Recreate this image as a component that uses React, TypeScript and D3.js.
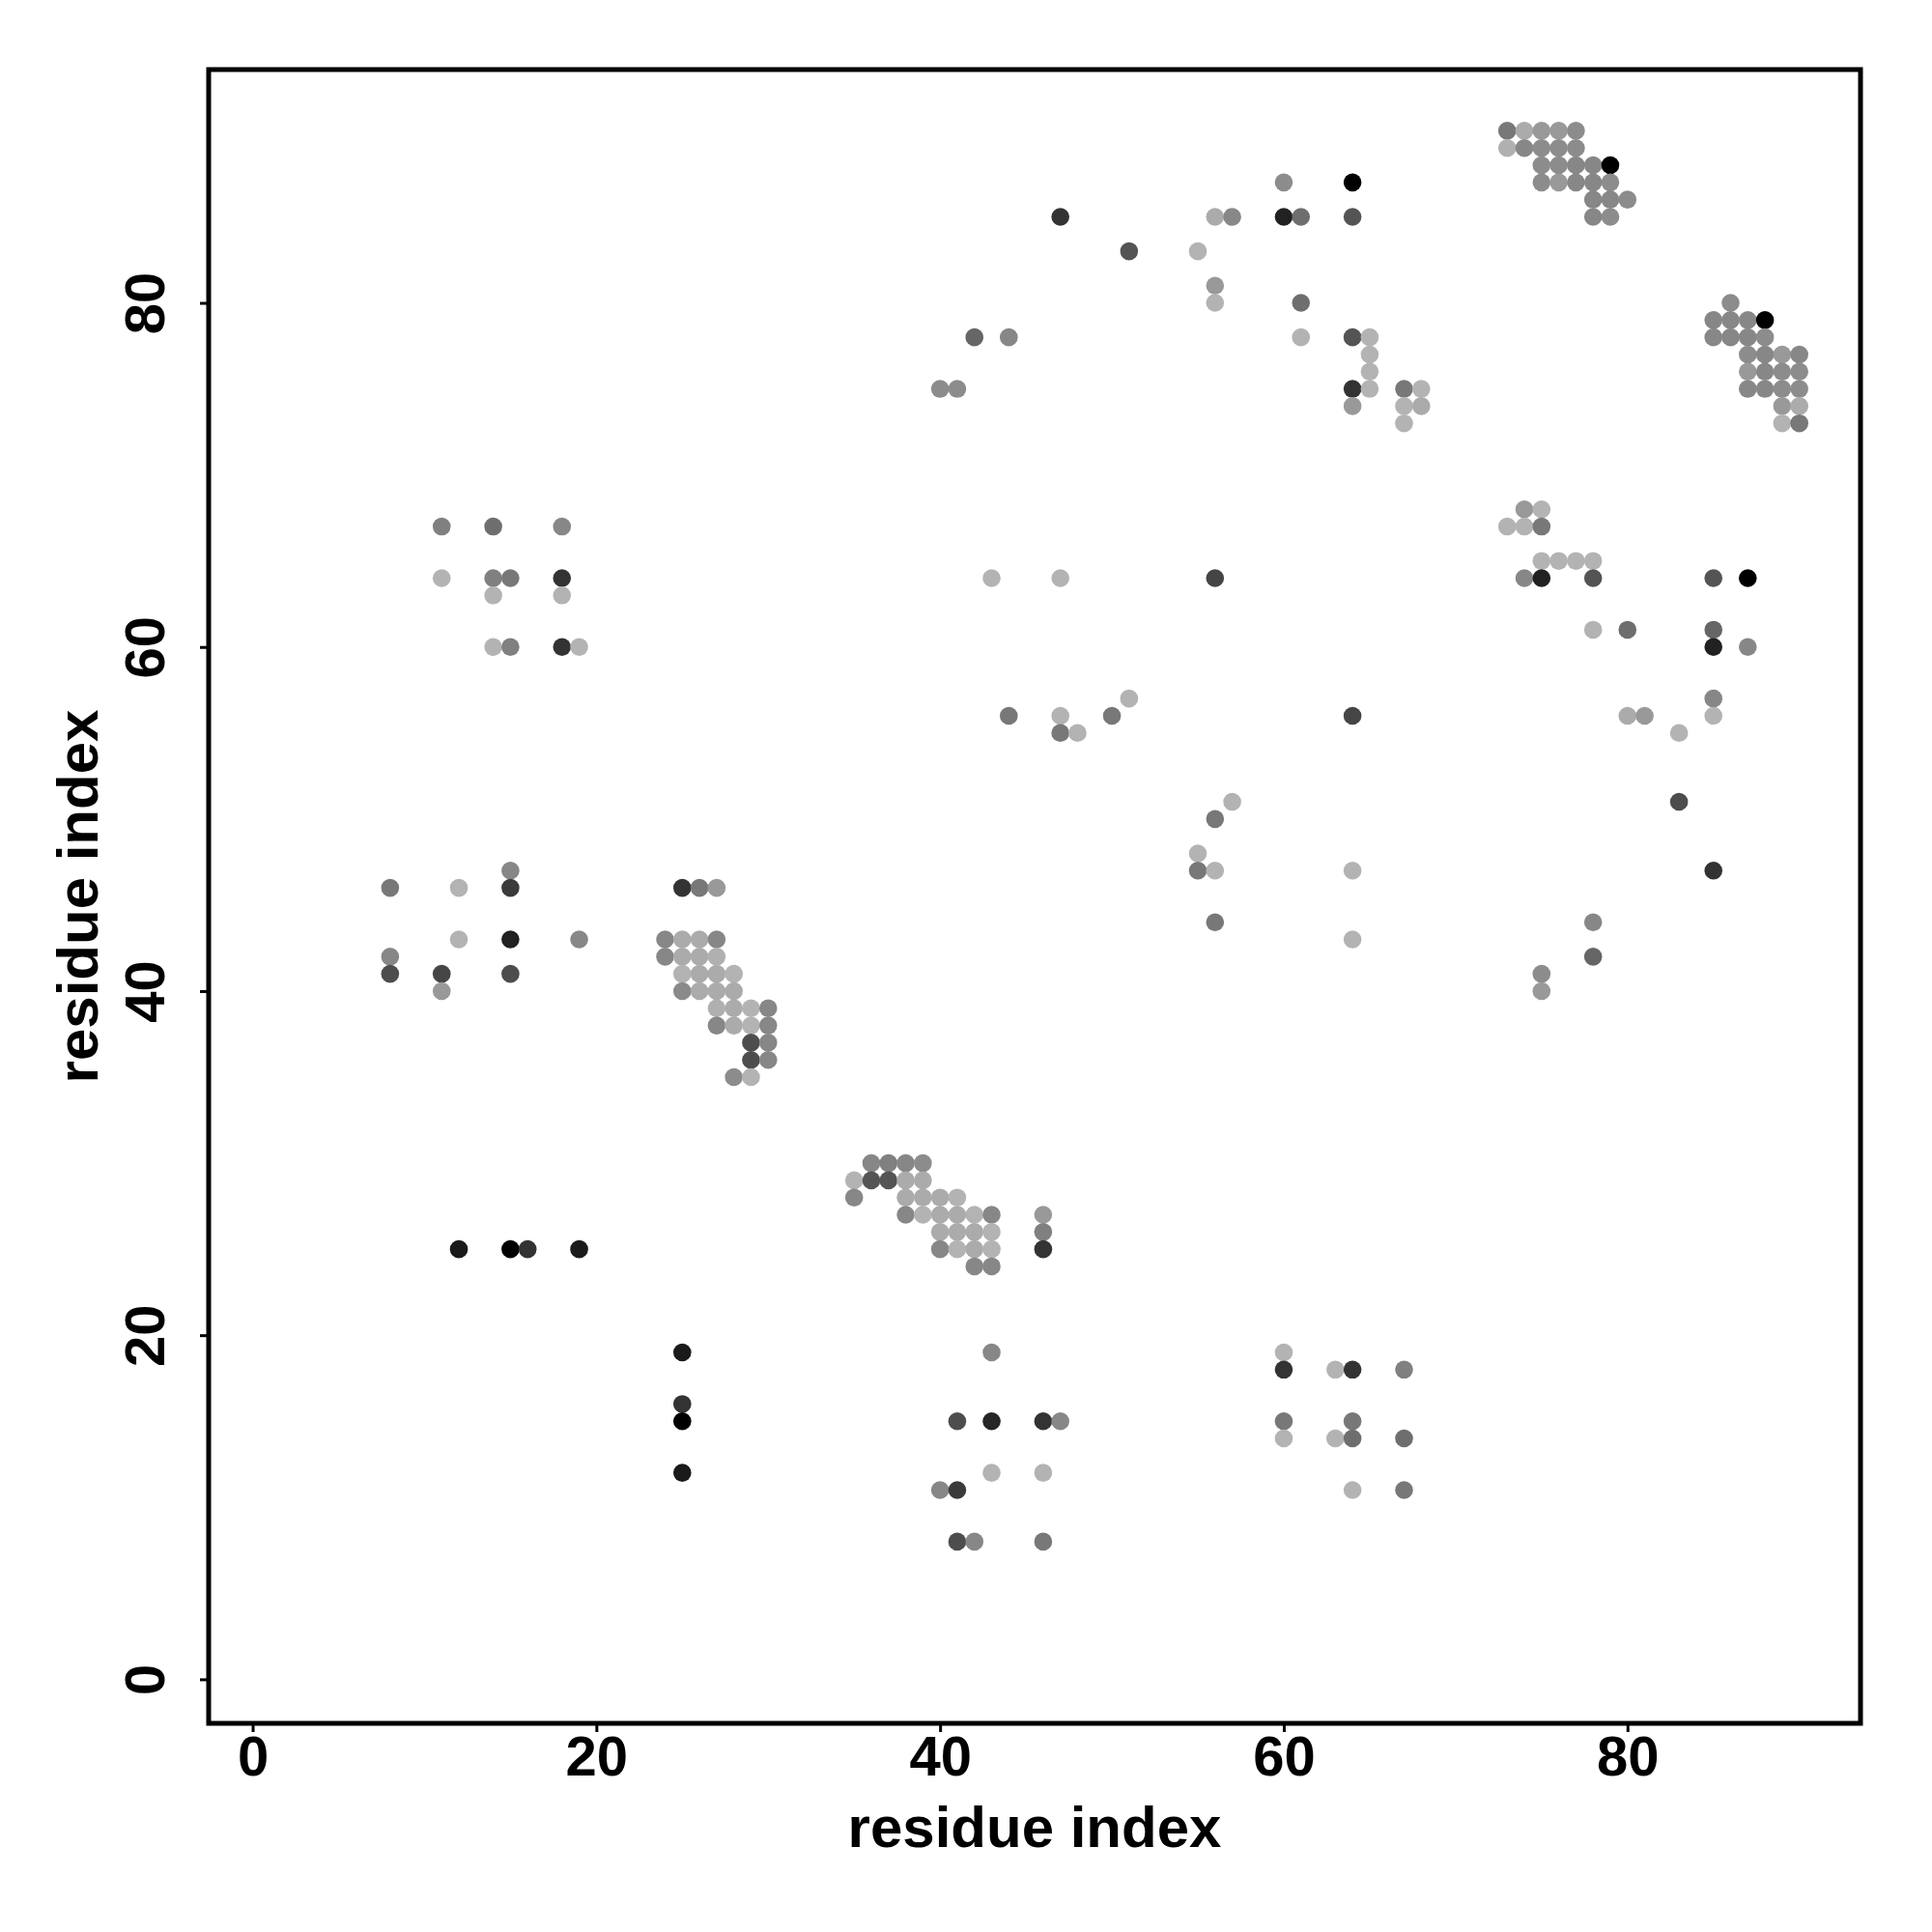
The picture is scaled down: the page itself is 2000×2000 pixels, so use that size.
import React, { useEffect, useRef } from "react";
import * as d3 from "d3";

// contacts as [i, j, grey level (0 = black, 1 = white)]
const blockUpperLeft: [number, number, number][] = [
  [11, 67, 0.5], [14, 67, 0.43], [18, 67, 0.53],
  [11, 64, 0.7], [14, 64, 0.5], [15, 64, 0.47], [18, 64, 0.2],
  [14, 63, 0.7], [18, 63, 0.7],
  [14, 60, 0.7], [15, 60, 0.5], [18, 60, 0.2], [19, 60, 0.7],
];

const blockLeft: [number, number, number][] = [
  [8, 46, 0.47], [12, 46, 0.7], [15, 47, 0.53], [15, 46, 0.23],
  [12, 43, 0.7], [15, 43, 0.13], [19, 43, 0.53],
  [8, 42, 0.53], [8, 41, 0.3], [11, 41, 0.27], [11, 40, 0.6], [15, 41, 0.3],
];

const helixA: [number, number, number][] = [
  [25, 46, 0.2], [26, 46, 0.47], [27, 46, 0.6],
  [24, 43, 0.53], [25, 43, 0.67], [26, 43, 0.67], [27, 43, 0.53],
  [24, 42, 0.53], [25, 42, 0.67], [26, 42, 0.67], [27, 42, 0.69],
  [25, 41, 0.7], [26, 41, 0.67], [27, 41, 0.67], [28, 41, 0.7],
  [25, 40, 0.54], [26, 40, 0.67], [27, 40, 0.67], [28, 40, 0.67],
  [27, 39, 0.69], [28, 39, 0.67], [29, 39, 0.7], [30, 39, 0.53],
  [27, 38, 0.53], [28, 38, 0.67], [29, 38, 0.7], [30, 38, 0.53],
  [29, 37, 0.3], [30, 37, 0.53],
  [29, 36, 0.3], [30, 36, 0.53],
  [28, 35, 0.55], [29, 35, 0.7],
];

const blockLowerLeft: [number, number, number][] = [
  [12, 25, 0.1], [15, 25, 0], [16, 25, 0.2], [19, 25, 0.1],
  [25, 19, 0.1], [25, 16, 0.2], [25, 15, 0], [25, 12, 0.1],
];

const helixB: [number, number, number][] = [
  [36, 30, 0.53], [37, 30, 0.5], [38, 30, 0.53], [39, 30, 0.55],
  [35, 29, 0.7], [36, 29, 0.33], [37, 29, 0.33], [38, 29, 0.67], [39, 29, 0.67],
  [35, 28, 0.53], [38, 28, 0.67], [39, 28, 0.67], [40, 28, 0.67], [41, 28, 0.7],
  [38, 27, 0.53], [39, 27, 0.7], [40, 27, 0.67], [41, 27, 0.67], [42, 27, 0.7], [43, 27, 0.53], [46, 27, 0.6],
  [40, 26, 0.67], [41, 26, 0.67], [42, 26, 0.67], [43, 26, 0.7], [46, 26, 0.5],
  [40, 25, 0.53], [41, 25, 0.7], [42, 25, 0.67], [43, 25, 0.7], [46, 25, 0.2],
  [42, 24, 0.53], [43, 24, 0.53],
];

const blockLowerMid: [number, number, number][] = [
  [43, 19, 0.53],
  [41, 15, 0.3], [43, 15, 0.15], [46, 15, 0.2], [47, 15, 0.53],
  [43, 12, 0.7], [46, 12, 0.7],
  [40, 11, 0.53], [41, 11, 0.23],
  [41, 8, 0.3], [42, 8, 0.53], [46, 8, 0.47],
  [60, 19, 0.7], [60, 18, 0.2], [60, 15, 0.47], [60, 14, 0.7],
  [63, 18, 0.7], [64, 18, 0.2], [67, 18, 0.5],
  [64, 15, 0.47],
  [63, 14, 0.7], [64, 14, 0.43], [67, 14, 0.43],
  [64, 11, 0.7], [67, 11, 0.47],
];

const blockMiddle: [number, number, number][] = [
  [43, 64, 0.7], [47, 64, 0.7], [56, 64, 0.27],
  [44, 56, 0.47], [47, 56, 0.7], [47, 55, 0.47], [48, 55, 0.7], [50, 56, 0.47], [51, 57, 0.7],
  [57, 51, 0.7], [56, 50, 0.47], [55, 48, 0.7], [55, 47, 0.47], [56, 47, 0.7], [56, 44, 0.47],
  [64, 56, 0.27], [64, 47, 0.7], [64, 43, 0.7],
];

const blockUpperMid: [number, number, number][] = [
  [60, 87, 0.55], [47, 85, 0.2], [56, 85, 0.67], [57, 85, 0.53], [60, 85, 0.13], [61, 85, 0.43],
  [64, 87, 0], [64, 85, 0.33],
  [51, 83, 0.33], [55, 83, 0.7], [56, 81, 0.6], [56, 80, 0.7], [61, 80, 0.43],
  [42, 78, 0.4], [44, 78, 0.53], [61, 78, 0.7],
  [40, 75, 0.55], [41, 75, 0.55],
  [64, 78, 0.33], [65, 78, 0.7], [65, 77, 0.7], [65, 76, 0.7], [64, 75, 0.2], [65, 75, 0.7], [64, 74, 0.6],
  [67, 75, 0.47], [68, 75, 0.7], [67, 74, 0.7], [68, 74, 0.67], [67, 73, 0.7],
];

const helixC: [number, number, number][] = [
  [73, 90, 0.47], [74, 90, 0.67], [75, 90, 0.6], [76, 90, 0.6], [77, 90, 0.55],
  [73, 89, 0.69], [74, 89, 0.53], [75, 89, 0.55], [76, 89, 0.55], [77, 89, 0.55],
  [75, 88, 0.55], [76, 88, 0.55], [77, 88, 0.53], [78, 88, 0.53], [79, 88, 0],
  [75, 87, 0.55], [76, 87, 0.6], [77, 87, 0.53], [78, 87, 0.53], [79, 87, 0.55],
  [78, 86, 0.53], [79, 86, 0.53], [80, 86, 0.55],
  [78, 85, 0.53], [79, 85, 0.55],
];

const helixD: [number, number, number][] = [
  [86, 80, 0.55],
  [85, 79, 0.53], [86, 79, 0.53], [87, 79, 0.53], [88, 79, 0],
  [85, 78, 0.53], [86, 78, 0.53], [87, 78, 0.53], [88, 78, 0.55],
  [87, 77, 0.55], [88, 77, 0.53], [89, 77, 0.6], [90, 77, 0.53],
  [87, 76, 0.6], [88, 76, 0.53], [89, 76, 0.55], [90, 76, 0.55],
  [87, 75, 0.53], [88, 75, 0.53], [89, 75, 0.55], [90, 75, 0.55],
  [89, 74, 0.6], [90, 74, 0.67],
  [89, 73, 0.7], [90, 73, 0.47],
];

const blockRight: [number, number, number][] = [
  [74, 68, 0.6], [75, 68, 0.7],
  [73, 67, 0.7], [74, 67, 0.7], [75, 67, 0.47],
  [75, 65, 0.7], [76, 65, 0.7], [77, 65, 0.7], [78, 65, 0.7],
  [74, 64, 0.53], [75, 64, 0.13], [78, 64, 0.33], [85, 64, 0.33], [87, 64, 0],
  [78, 61, 0.7], [80, 61, 0.43], [85, 61, 0.4], [85, 60, 0.13], [87, 60, 0.53],
  [85, 57, 0.53], [85, 56, 0.7], [80, 56, 0.67], [81, 56, 0.6], [83, 55, 0.7],
  [83, 51, 0.3], [85, 47, 0.2],
  [78, 44, 0.53], [78, 42, 0.4], [75, 41, 0.55], [75, 40, 0.6],
];

const tickValues = [0, 20, 40, 60, 80];
const axisTitle = "residue index";

const allContacts = [
  ...blockUpperLeft, ...blockLeft, ...helixA, ...blockLowerLeft, ...helixB,
  ...blockLowerMid, ...blockMiddle, ...blockUpperMid, ...helixC, ...helixD, ...blockRight,
];

const App = () => {
  const ref = useRef<SVGSVGElement>(null);

  useEffect(() => {
    const svg = d3.select(ref.current);
    svg.selectAll("*").remove();

    const left = 216, right = 1926, top = 72, bottom = 1784;
    const font = "'Liberation Sans', Arial, Helvetica, sans-serif";

    const x = d3.scaleLinear().domain([-2.56, 93.56]).range([left, right]);
    const y = d3.scaleLinear().domain([-2.56, 93.56]).range([bottom, top]);
    const grey = (g: number) => d3.interpolateRgb("#000000", "#ffffff")(g);

    svg
      .append("g")
      .selectAll("circle")
      .data(allContacts)
      .enter()
      .append("circle")
      .attr("cx", d => x(d[0]))
      .attr("cy", d => y(d[1]))
      .attr("r", 9.3)
      .attr("fill", d => grey(d[2]));

    const xAxis = svg
      .append("g")
      .attr("transform", `translate(0,${bottom})`)
      .call(d3.axisBottom(x).tickValues(tickValues).tickSizeOuter(0).tickSize(9).tickPadding(4));
    xAxis.select(".domain").remove();
    xAxis.selectAll("line").attr("stroke-width", 3);
    xAxis
      .selectAll("text")
      .attr("font-family", font)
      .attr("font-weight", "bold")
      .attr("font-size", 58)
      .attr("fill", "#000");

    const yAxis = svg
      .append("g")
      .attr("transform", `translate(${left},0)`)
      .call(d3.axisLeft(y).tickValues(tickValues).tickSizeOuter(0).tickSize(9));
    yAxis.select(".domain").remove();
    yAxis.selectAll("line").attr("stroke-width", 3);
    yAxis
      .selectAll("text")
      .attr("x", null)
      .attr("dy", null)
      .attr("y", -46)
      .attr("transform", "rotate(-90)")
      .attr("text-anchor", "middle")
      .attr("font-family", font)
      .attr("font-weight", "bold")
      .attr("font-size", 58)
      .attr("fill", "#000");

    svg
      .append("rect")
      .attr("x", left)
      .attr("y", top)
      .attr("width", right - left)
      .attr("height", bottom - top)
      .attr("fill", "none")
      .attr("stroke", "#000")
      .attr("stroke-width", 5);

    svg
      .append("text")
      .attr("x", (left + right) / 2)
      .attr("y", 1912)
      .attr("text-anchor", "middle")
      .attr("font-family", font)
      .attr("font-weight", "bold")
      .attr("font-size", 60)
      .text(axisTitle);

    svg
      .append("text")
      .attr("transform", `translate(101,${(top + bottom) / 2}) rotate(-90)`)
      .attr("text-anchor", "middle")
      .attr("font-family", font)
      .attr("font-weight", "bold")
      .attr("font-size", 60)
      .text(axisTitle);
  }, []);

  return (
    <svg
      ref={ref}
      width={2000}
      height={2000}
      style={{ position: "absolute", left: 0, top: 0, background: "#fff" }}
    />
  );
};

export default App;
